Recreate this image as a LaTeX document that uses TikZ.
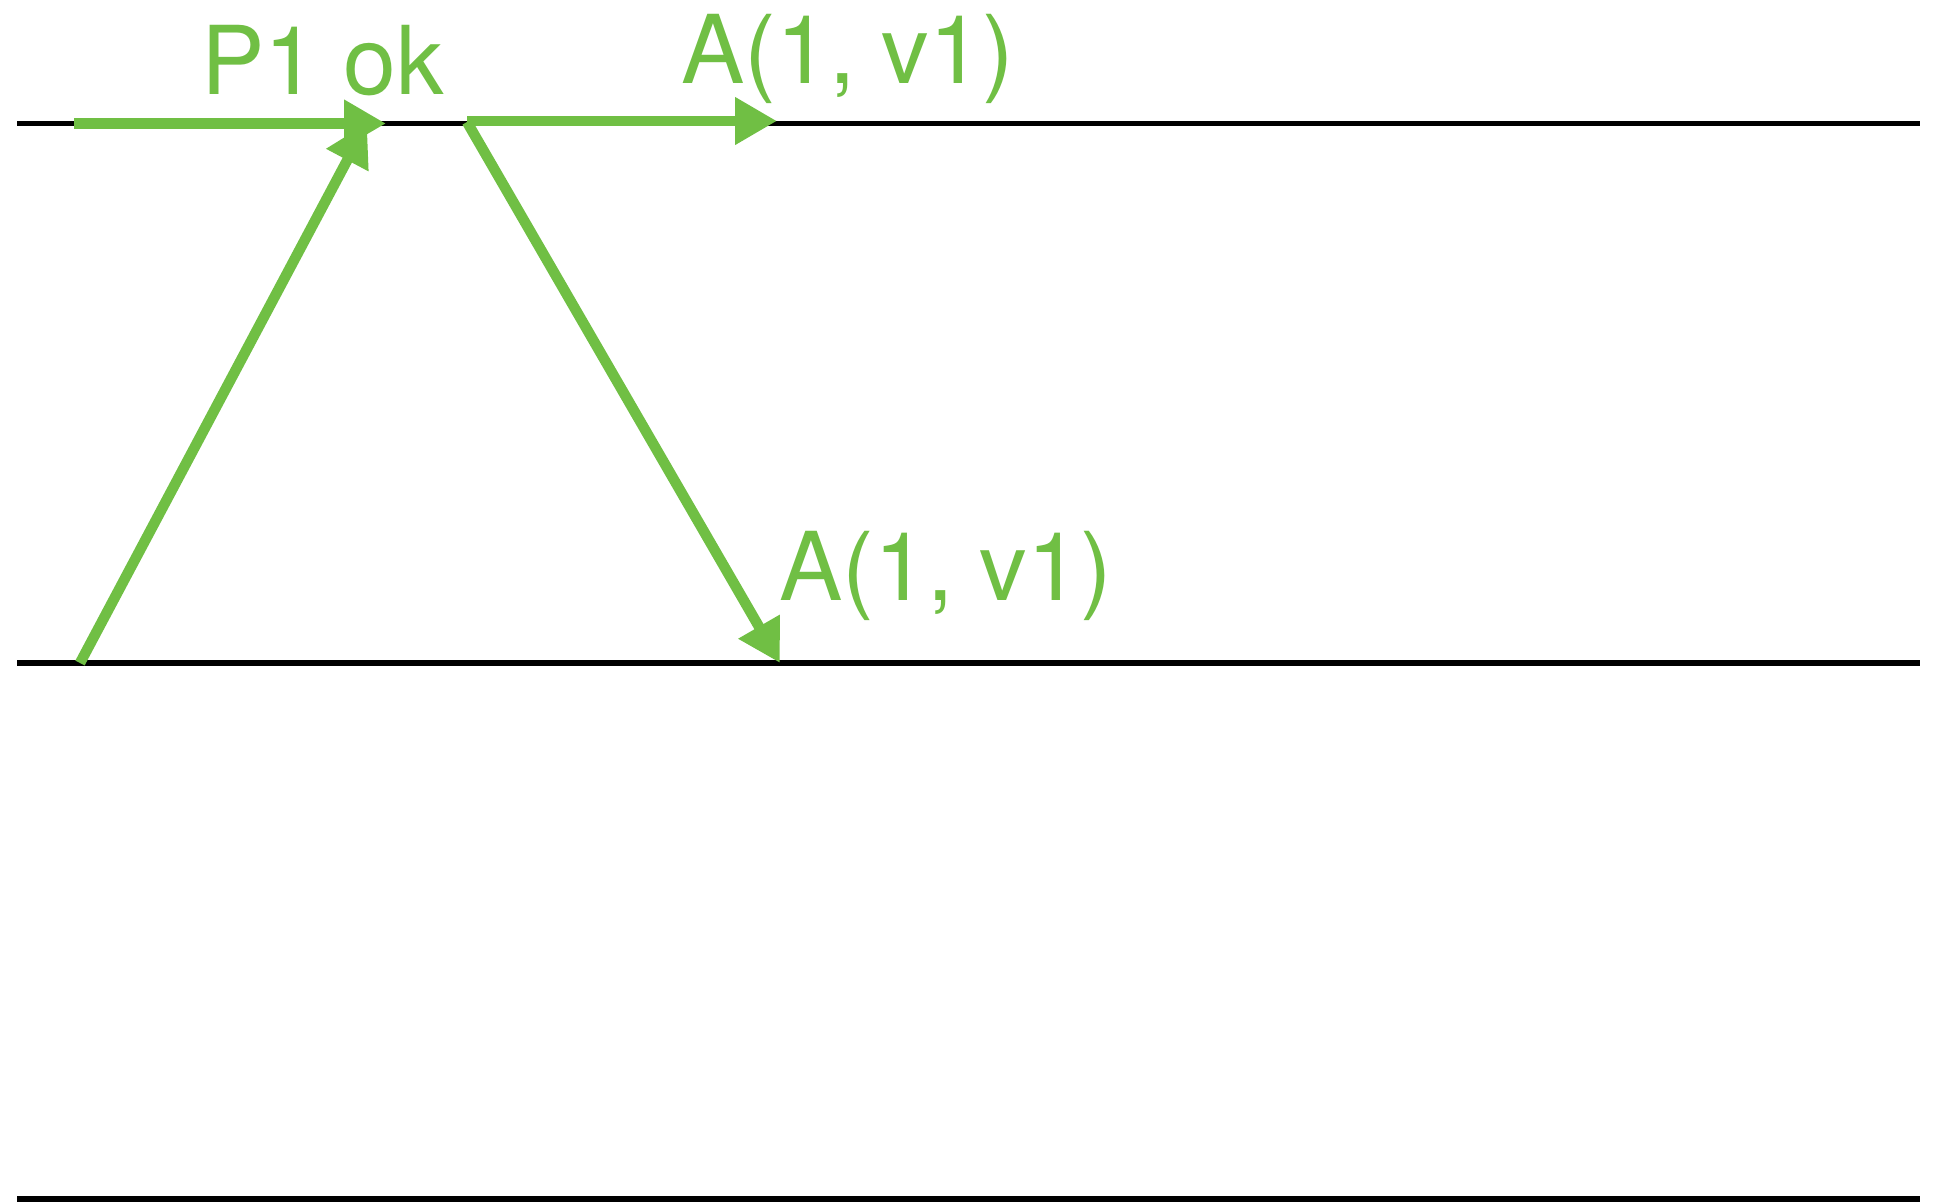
\documentclass[tikz,border=0pt]{standalone}
\usepackage{fontspec}
\setmainfont{TeX Gyre Heros}
\usetikzlibrary{arrows.meta}
\definecolor{msggreen}{RGB}{112,191,68}
\begin{document}
\begin{tikzpicture}[x=1pt,y=-1pt,
  timeline/.style={draw=black,line width=5.5pt},
  msg/.style={draw=msggreen,line width=10.5pt,-{Triangle[length=42pt,width=45pt]}},
  lbl/.style={text=msggreen,font=\fontsize{95}{100}\selectfont,inner sep=0pt,anchor=base west}]
\useasboundingbox (0,0) rectangle (1935,1203);
% timelines
\coordinate (l1a) at (17,123.5);  \coordinate (l1b) at (1920,123.5);
\coordinate (l2a) at (17,663);    \coordinate (l2b) at (1920,663);
\coordinate (l3a) at (17,1199);   \coordinate (l3b) at (1920,1199);
\draw[timeline] (l1a) -- (l1b);
\draw[timeline] (l2a) -- (l2b);
\draw[timeline] (l3a) -- (l3b);
% message points
\coordinate (p1s) at (74,123.5);
\coordinate (p1e) at (386,123.5);
\coordinate (r0) at (80,663);
\coordinate (r1) at (367,123);
\coordinate (a0) at (467,121);
\coordinate (a1) at (777,121);
\coordinate (a0d) at (467,122);
\coordinate (b1) at (780,663);
\draw[msg] (p1s) -- (p1e);
\draw[msg] (r0) -- (r1);
\draw[msg] (a0) -- (a1);
\draw[msg] (a0d) -- (b1);
% labels
\node[lbl] (t1) at (201,94) {P1 ok};
\node[lbl] (t2) at (681,83) {A(1, v1)};
\node[lbl] (t3) at (779,600) {A(1, v1)};
\end{tikzpicture}
\end{document}
